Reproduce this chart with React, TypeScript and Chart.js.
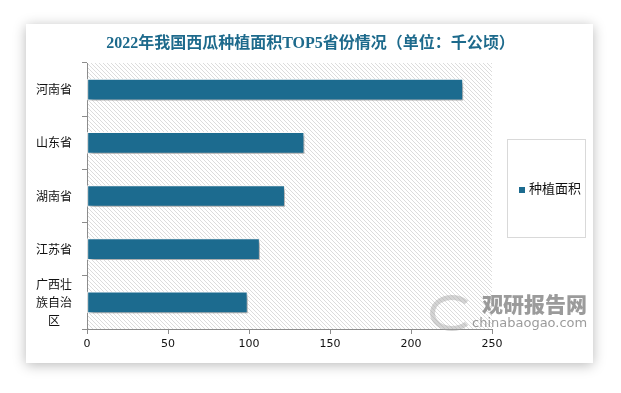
import React, { useEffect, useRef } from "react";
import { Chart, registerables } from "chart.js";

Chart.register(...registerables);

const TITLE = "2022年我国西瓜种植面积TOP5省份情况（单位：千公顷）";
const SERIES_LABEL = "种植面积";
const CATEGORIES: (string | string[])[] = ["河南省", "山东省", "湖南省", "江苏省", ["广西壮", "族自治", "区"]];
const VALUES = [232, 134, 122, 106.5, 99];
const X_MIN = 0;
const X_MAX = 250;
const X_STEP = 50;

const BAR_COLOR = "#1c6b8f";
const AXIS_COLOR = "#8c8c8c";

const hatchPlugin = {
  id: "hatchBg",
  beforeDraw(chart: any) {
    const { ctx, chartArea } = chart;
    if (!chartArea) return;
    const p = document.createElement("canvas");
    p.width = 4;
    p.height = 4;
    const pc = p.getContext("2d")!;
    pc.fillStyle = "#ffffff";
    pc.fillRect(0, 0, 4, 4);
    pc.fillStyle = "#dcdcdc";
    for (let i = 0; i < 4; i++) pc.fillRect(i, i, 1, 1);
    const pattern = ctx.createPattern(p, "repeat");
    ctx.save();
    ctx.fillStyle = pattern;
    ctx.fillRect(chartArea.left, chartArea.top, chartArea.right - chartArea.left, chartArea.bottom - chartArea.top);
    ctx.restore();
  },
};

const shadowPlugin = {
  id: "barShadow",
  beforeDatasetsDraw(chart: any) {
    const ctx = chart.ctx;
    ctx.save();
    ctx.shadowColor = "rgba(0,0,0,0.35)";
    ctx.shadowBlur = 4;
    ctx.shadowOffsetX = 3;
    ctx.shadowOffsetY = 3;
  },
  afterDatasetsDraw(chart: any) {
    chart.ctx.restore();
  },
};

function BarChart() {
  const ref = useRef<HTMLCanvasElement | null>(null);
  useEffect(() => {
    if (!ref.current) return;
    const chart = new Chart(ref.current, {
      type: "bar",
      data: {
        labels: CATEGORIES as any,
        datasets: [
          {
            label: SERIES_LABEL,
            data: VALUES,
            backgroundColor: BAR_COLOR,
            borderColor: "#ffffff",
            borderWidth: 1,
            borderSkipped: false,
            barThickness: 21,
          },
        ],
      },
      options: {
        indexAxis: "y",
        animation: false,
        responsive: false,
        maintainAspectRatio: false,
        layout: { padding: { left: 0, right: 129, top: 63, bottom: 34 } },
        plugins: {
          legend: { display: false },
          tooltip: { enabled: false },
          title: { display: false },
        },
        scales: {
          x: {
            type: "linear",
            min: X_MIN,
            max: X_MAX,
            afterFit: (s: any) => {
              s.height = 30;
            },
            ticks: {
              stepSize: X_STEP,
              color: "#111",
              padding: 4,
              font: { family: "'DejaVu Sans', sans-serif", size: 11 },
            },
            grid: { display: true, drawOnChartArea: false, tickLength: 5, color: AXIS_COLOR },
            border: { display: true, color: AXIS_COLOR },
          },
          y: {
            type: "category",
            afterFit: (s: any) => {
              s.width = 87;
            },
            ticks: {
              color: "#111",
              padding: 10,
              autoSkip: false,
              crossAlign: "center",
              font: { family: "'Noto Sans CJK SC', sans-serif", size: 12, lineHeight: 1.5 },
            },
            grid: { display: true, drawOnChartArea: false, tickLength: 5, color: AXIS_COLOR, offset: true },
            border: { display: true, color: AXIS_COLOR },
          },
        },
      },
      plugins: [hatchPlugin, shadowPlugin],
    } as any);
    return () => chart.destroy();
  }, []);
  return (
    <canvas
      ref={ref}
      width={621}
      height={393}
      style={{ position: "absolute", left: 0, top: 0, width: 621, height: 393 }}
    />
  );
}

export default function App() {
  return (
    <div style={{ position: "absolute", left: 0, top: 0, width: 621, height: 393, background: "#fff", overflow: "hidden" }}>
      <div
        style={{
          position: "absolute",
          left: 26,
          top: 24,
          width: 567,
          height: 339,
          background: "#fff",
          boxShadow: "0 2px 12px rgba(0,0,0,0.28)",
        }}
      />
      <BarChart />
      <div
        style={{
          position: "absolute",
          left: 0,
          top: 33,
          width: 621,
          textAlign: "center",
          color: "#1d6a8c",
          fontFamily: "'Liberation Serif', 'Noto Sans CJK SC', serif",
          fontSize: 16,
          fontWeight: "bold",
          lineHeight: "20px",
          whiteSpace: "nowrap",
        }}
      >
        {TITLE}
      </div>
      <div
        style={{
          position: "absolute",
          left: 507,
          top: 139,
          width: 77,
          height: 97,
          border: "1px solid #d9d9d9",
          boxSizing: "content-box",
        }}
      >
        <div
          style={{
            position: "absolute",
            left: 11,
            top: 47,
            width: 6,
            height: 6,
            background: BAR_COLOR,
          }}
        />
        <div
          style={{
            position: "absolute",
            left: 21,
            top: 38,
            fontFamily: "'Noto Sans CJK SC', sans-serif",
            fontSize: 13,
            lineHeight: "20px",
            color: "#111",
            whiteSpace: "nowrap",
          }}
        >
          {SERIES_LABEL}
        </div>
      </div>
      <div
        style={{
          position: "absolute",
          left: 472,
          top: 290,
          width: 115,
          textAlign: "right",
          color: "rgba(130,130,130,0.8)",
          fontFamily: "'Noto Sans CJK SC', sans-serif",
          pointerEvents: "none",
        }}
      >
        <div style={{ fontSize: 21, fontWeight: 900, lineHeight: "26px", letterSpacing: 0 }}>观研报告网</div>
        <div style={{ fontSize: 13, lineHeight: "14px", fontFamily: "'DejaVu Sans', sans-serif", letterSpacing: 0 }}>
          chinabaogao.com
        </div>
      </div>
      <div
        style={{
          position: "absolute",
          left: 430,
          top: 295,
          width: 34,
          height: 26,
          borderRadius: "50%",
          border: "5px solid rgba(160,160,160,0.45)",
          borderRightColor: "transparent",
          pointerEvents: "none",
        }}
      />
    </div>
  );
}
